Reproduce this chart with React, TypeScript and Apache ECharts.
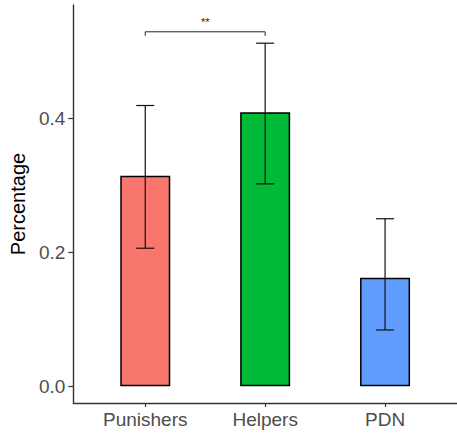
import React, { useEffect, useRef } from "react";
import * as echarts from "echarts";

const categories = ["Punishers", "Helpers", "PDN"];
const means = [0.314, 0.409, 0.162];
const lower = [0.206, 0.302, 0.084];
const upper = [0.419, 0.512, 0.25];
const yTicks = [0, 0.2, 0.4];
const bracketFrom = 1;
const bracketTo = 2;
const bracketY = 0.529;
const bracketDrop = 0.006;
const bracketLabel = "**";

const palette = ["#F8766D", "#00BA38", "#619CFF"];
const FONT = "'Liberation Sans', Arial, sans-serif";

export default function App() {
  const ref = useRef<HTMLDivElement>(null);
  useEffect(() => {
    if (!ref.current) return;
    const chart = echarts.init(ref.current, undefined, { renderer: "svg" });
    const xs = categories.map((_, i) => i + 1);
    chart.setOption({
      animation: false,
      grid: { left: 68, top: 5, width: 392, bottom: 31, containLabel: false },
      xAxis: {
        type: "value",
        min: 0.4,
        max: 3.6,
        splitLine: { show: false },
        axisLine: { show: true, onZero: false, lineStyle: { color: "#333", width: 1.4 } },
        axisTick: { show: true, length: 4, customValues: xs, lineStyle: { color: "#333", width: 1.2 } },
        axisLabel: {
          customValues: xs,
          margin: 7,
          color: "#4d4d4d",
          fontSize: 19,
          fontFamily: FONT,
          formatter: (v: number) => categories[Math.round(v) - 1] ?? "",
        },
      },
      yAxis: {
        type: "value",
        min: -0.025,
        max: 0.569,
        name: "Percentage",
        nameLocation: "middle",
        nameGap: 44,
        nameTextStyle: { color: "#000", fontSize: 20, fontFamily: FONT },
        splitLine: { show: false },
        axisLine: { show: true, onZero: false, lineStyle: { color: "#333", width: 1.4 } },
        axisTick: { show: true, length: 5, customValues: yTicks, lineStyle: { color: "#333", width: 1.2 } },
        axisLabel: {
          customValues: yTicks,
          margin: 8,
          color: "#4d4d4d",
          fontSize: 19,
          fontFamily: FONT,
          formatter: (v: number) => v.toFixed(1),
        },
      },
      series: [
        {
          type: "bar",
          barWidth: 50,
          data: means.map((m, i) => ({
            value: [xs[i], m],
            itemStyle: { color: palette[i], borderColor: "#000", borderWidth: 1.5 },
          })),
        },
        {
          type: "custom",
          encode: { x: 0, y: [1, 2] },
          data: xs.map((x, i) => [x, lower[i], upper[i]]),
          renderItem: (params: any, api: any) => {
            const x = api.value(0);
            const lo = api.coord([x, api.value(1)]);
            const hi = api.coord([x, api.value(2)]);
            const hw = 9;
            const style = { stroke: "#111", lineWidth: 1.2 };
            return {
              type: "group",
              children: [
                { type: "line", shape: { x1: lo[0], y1: lo[1], x2: hi[0], y2: hi[1] }, style },
                { type: "line", shape: { x1: hi[0] - hw, y1: hi[1], x2: hi[0] + hw, y2: hi[1] }, style },
                { type: "line", shape: { x1: lo[0] - hw, y1: lo[1], x2: lo[0] + hw, y2: lo[1] }, style },
              ],
            };
          },
          z: 5,
        },
        {
          type: "custom",
          encode: { x: [0, 1], y: [2, 3] },
          data: [[bracketFrom, bracketTo, bracketY, bracketY - bracketDrop]],
          renderItem: (params: any, api: any) => {
            const a = api.coord([api.value(0), api.value(2)]);
            const b = api.coord([api.value(1), api.value(2)]);
            const aEnd = api.coord([api.value(0), api.value(3)]);
            return {
              type: "group",
              children: [
                {
                  type: "polyline",
                  shape: { points: [[a[0], aEnd[1]], a, b, [b[0], aEnd[1]]] },
                  style: { stroke: "#222", lineWidth: 1, fill: "none" },
                },
                {
                  type: "text",
                  style: {
                    text: bracketLabel,
                    x: (a[0] + b[0]) / 2,
                    y: a[1] - 4,
                    align: "center",
                    verticalAlign: "bottom",
                    fontSize: 11,
                    fontFamily: FONT,
                    fill: "#222",
                  },
                },
              ],
            };
          },
          z: 5,
        },
      ],
    });
    return () => chart.dispose();
  }, []);
  return <div ref={ref} style={{ width: 457, height: 434, position: "absolute", left: 0, top: 0 }} />;
}
